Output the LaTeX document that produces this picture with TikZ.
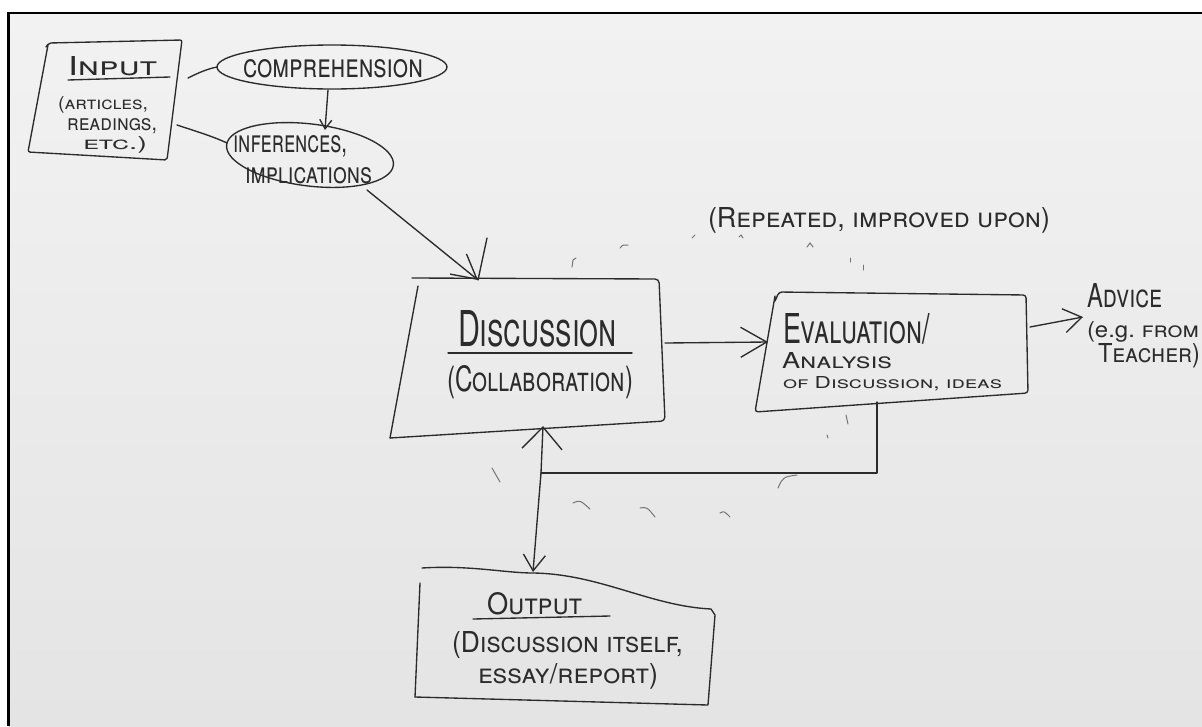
\documentclass[tikz,border=0pt]{standalone}
\usepackage{fontspec}
\setmainfont{TeX Gyre Heros}
\usepackage{graphicx}
\usetikzlibrary{arrows.meta}
\definecolor{ink}{HTML}{2B2B2B}
\definecolor{papertop}{HTML}{F2F2F2}
\definecolor{paperbot}{HTML}{E4E4E4}
% hand lettering: small caps stretched to a given width and height
\newcommand\hw[3]{\resizebox{#1pt}{#2pt}{\scshape #3}}
\begin{document}
\begin{tikzpicture}[x=1pt,y=-1pt,
  pen/.style={draw=ink, line width=1.35pt, line cap=round, line join=round},
  faint/.style={draw=ink!65, line width=1pt, line cap=round},
  lbl/.style={anchor=base west, inner sep=0pt, outer sep=0pt, text=ink},
  barbto/.style 2 args={-{Straight Barb[length=#1, width=#2]}},
]
\useasboundingbox (0,0) rectangle (1202,726);
\clip (0,0) rectangle (1202,726);
\fill[white] (0,0) rectangle (1202,726);
\shade[top color=papertop, bottom color=paperbot] (8,13) rectangle (1202,726);
\draw[line width=2.6pt] (8.3,726) -- (8.3,13) -- (1202,13);

% ---------- shapes ----------
% input sheet
\draw[pen, rounded corners=2pt] (46,47) -- (49,43) -- (182,40) -- (167,160) -- (28,152) -- (48,45);
% comprehension bubble
\draw[pen] (332,67) ellipse [x radius=115, y radius=22];
% inferences bubble
\draw[pen, rotate around={-7:(310,155)}] (310,155) ellipse [x radius=84, y radius=31];
% discussion box
\draw[pen, rounded corners=4pt] (412,278) -- (659,279) -- (665,421) -- (390,438);
\draw[pen] (418,286) -- (390,438);
% evaluation box
\draw[pen, rounded corners=3pt] (775,301) -- (779,292) -- (1026,295) -- (1028,393) -- (755,412) -- (775,296);
% output box
\draw[pen] (422,568) .. controls (470,565) and (505,573) .. (533,573)
  .. controls (600,574) and (650,606) .. (711,609) -- (715,615) -- (708,705) -- (415,697);
\draw[pen] (420,583) -- (415,697);

% ---------- texts ----------
\node[lbl] (in-title) at (68,75) {\hw{89}{19}{Input}};
\draw[pen] (68,80) -- (170,77);
\node[lbl] (in-l1) at (58,109) {\hw{90}{13}{(articles,}};
\node[lbl] (in-l2) at (67,130) {\hw{90}{12}{readings,}};
\node[lbl] (in-l3) at (83,149) {\hw{64}{13}{etc.)}};

\node[lbl] (comp-t) at (243,77) {\hw{180}{18}{comprehension}};
\node[lbl] (inf-l1) at (233,152) {\hw{114}{17}{inferences,}};
\node[lbl] (inf-l2) at (245,183) {\hw{127}{16}{implications}};

\node[lbl] (rep-t) at (708,227) {\hw{342}{20}{(Repeated, improved upon)}};

\node[lbl] (disc-t) at (458,346) {\hw{159}{36}{Discussion}};
\draw[pen] (448,353) -- (632,353);
\node[lbl] (collab-t) at (447,391) {\hw{186}{26}{(Collaboration)}};

\node[lbl] (eval-l1) at (783,343) {\hw{147}{30}{Evaluation/}};
\node[lbl] (eval-l2) at (782,368) {\hw{110}{16}{Analysis}};
\node[lbl] (eval-l3) at (783,388) {\hw{219}{12}{of Discussion, ideas}};

\node[lbl] (adv-l1) at (1087,307) {\hw{75}{24}{Advice}};
\node[lbl] (adv-l2) at (1087,337) {\resizebox{112pt}{16pt}{(e.g.\ {\scshape from}}};
\node[lbl] (adv-l3) at (1098,362) {\hw{102}{19}{Teacher)}};

\node[lbl] (out-t) at (487,614) {\hw{95}{22}{Output}};
\draw[pen] (473,619) -- (610,616);
\node[lbl] (out-l1) at (452,652) {\hw{231}{21}{(Discussion itself,}};
\node[lbl] (out-l2) at (478,683) {\hw{180}{20}{essay/report)}};

% ---------- connector ends ----------
\coordinate (in-e1) at (188,78);
\coordinate (in-e2) at (177,125);
\coordinate (comp-w) at (217,67);
\coordinate (comp-s) at (328,90);
\coordinate (inf-n) at (325,130);
\coordinate (inf-w) at (227,143);
\coordinate (inf-se) at (367,190);
\coordinate (disc-n) at (478,280);
\coordinate (disc-in) at (487,238);
\coordinate (disc-e) at (665,343);
\coordinate (disc-s) at (543,426);
\coordinate (eval-w) at (768,342);
\coordinate (eval-e) at (1030,327);
\coordinate (eval-s) at (877,402);
\coordinate (adv-w) at (1083,317);
\coordinate (j) at (541,473);
\coordinate (out-n) at (533,572);

% ---------- connectors ----------
\draw[pen] (in-e1) .. controls (198,73) and (207,69) .. (comp-w);
\draw[pen] (in-e2) .. controls (195,131) and (212,136) .. (inf-w);
\draw[pen, barbto={9pt}{12pt}] (comp-s) -- (inf-n);
\draw[pen, barbto={24pt}{26pt}] (inf-se) -- (disc-n);
\draw[pen] (disc-in) -- (disc-n);
\draw[pen, barbto={26pt}{30pt}] (disc-e) -- (eval-w);
\draw[pen, barbto={18pt}{24pt}] (eval-e) -- (adv-w);
\draw[pen] (eval-s) |- (j);
\draw[pen, barbto={22pt}{40pt}] (j) -- (disc-s);
\draw[pen, barbto={16pt}{22pt}] (j) -- (out-n);

% ---------- stray pencil ticks ----------
\draw[faint] (572,267) -- (573,260) -- (576,258);
\draw[faint] (620,248) .. controls (622,245) .. (628,245);
\draw[faint] (692,238) -- (695,235);
\draw[faint] (739,237) -- (741,235) -- (743,238);
\draw[faint] (807,247) -- (810,243) -- (813,247);
\draw[faint] (850,258) -- (850,262);
\draw[faint] (863,265) -- (863,270);
\draw[faint] (492,468) -- (500,482);
\draw[faint] (573,503) .. controls (580,500) .. (590,509);
\draw[faint] (640,508) .. controls (647,507) .. (655,517);
\draw[faint] (720,513) .. controls (724,511) .. (730,517);
\draw[faint] (778,488) .. controls (783,477) .. (797,475);
\draw[faint] (846,415) -- (848,424);
\draw[faint] (827,435) -- (828,438);
\end{tikzpicture}
\end{document}
